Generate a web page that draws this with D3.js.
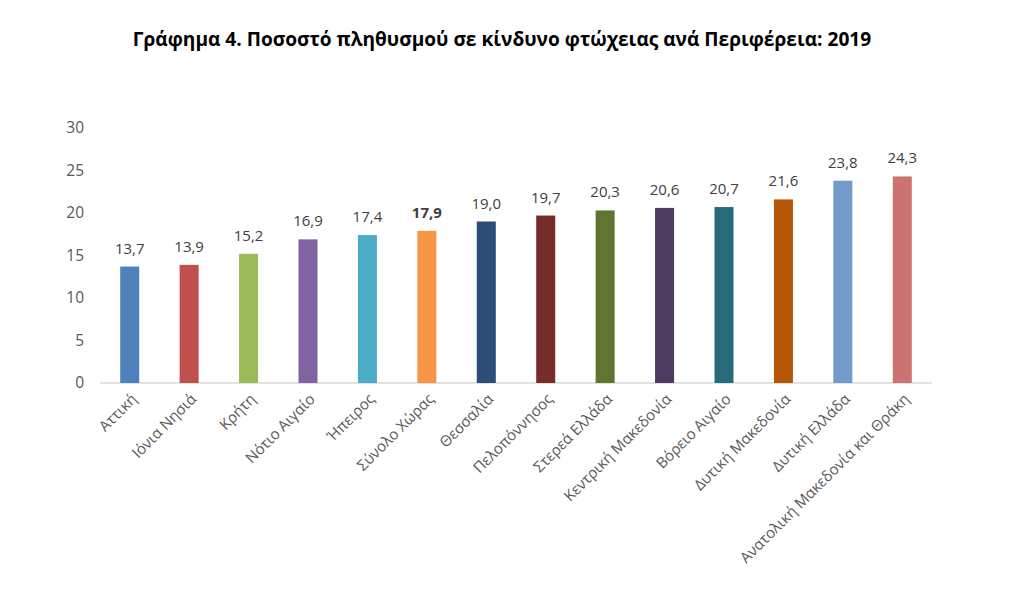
<!DOCTYPE html>
<html><head><meta charset="utf-8">
<script src="https://cdn.jsdelivr.net/npm/d3@7"></script>
<style>body{margin:0;background:#fff}svg{display:block}</style>
</head><body>
<svg id="c" width="1024" height="590"></svg>
<script>
const categories = ["Αττική","Ιόνια Νησιά","Κρήτη","Νότιο Αιγαίο","Ήπειρος","Σύνολο Χώρας","Θεσσαλία","Πελοπόννησος","Στερεά Ελλάδα","Κεντρική Μακεδονία","Βόρειο Αιγαίο","Δυτική Μακεδονία","Δυτική Ελλάδα","Ανατολική Μακεδονία και Θράκη"];
const values = [13.7,13.9,15.2,16.9,17.4,17.9,19.0,19.7,20.3,20.6,20.7,21.6,23.8,24.3];
const colors = ["#4F81BD","#C0504D","#9BBB59","#8064A2","#4BACC6","#F79646","#2C4D75","#772C2A","#5F7530","#4D3B62","#276A7C","#B65708","#729ACA","#CD7371"];
const yTicks = [0,5,10,15,20,25,30];
const title = "Γράφημα 4. Ποσοστό πληθυσμού σε κίνδυνο φτώχειας ανά Περιφέρεια: 2019";
const highlight = "Σύνολο Χώρας";

const svg = d3.select("#c");
const font = "'Open Sans', 'Noto Sans', sans-serif";
const x = d3.scaleBand().domain(categories).range([100,932]).paddingInner(0.68).paddingOuter(0.34);
const y = d3.scaleLinear().domain([0,30]).range([383,128]);

// title
const t = svg.append("text").attr("x",502).attr("y",46).attr("text-anchor","middle")
  .attr("font-family",font).attr("font-weight","bold").attr("font-size",17).attr("fill","#000").text(title);
const tw = t.node().getComputedTextLength();
t.attr("font-size", 17*739/tw);

// y axis
const ya = svg.append("g").attr("transform","translate(84,0)")
  .call(d3.axisLeft(y).tickValues(yTicks).tickSize(0).tickPadding(0));
ya.select(".domain").remove();
ya.selectAll("text").attr("font-family",font).attr("font-size",15.5).attr("fill","#595959");

// baseline
svg.append("line").attr("x1",100).attr("x2",932).attr("y1",y(0)).attr("y2",y(0))
  .attr("stroke","#D9D9D9").attr("stroke-width",1.3);

// bars
svg.selectAll("rect.bar").data(categories).join("rect").attr("class","bar")
  .attr("x",d=>x(d)).attr("width",x.bandwidth())
  .attr("y",(d,i)=>y(values[i])).attr("height",(d,i)=>y(0)-y(values[i]))
  .attr("fill",(d,i)=>colors[i]);

// value labels
svg.selectAll("text.val").data(categories).join("text").attr("class","val")
  .attr("x",d=>x(d)+x.bandwidth()/2).attr("y",(d,i)=>y(values[i])-13)
  .attr("text-anchor","middle").attr("font-family",font).attr("font-size",15)
  .attr("font-weight",d=>d===highlight?"bold":"normal")
  .attr("fill","#404040")
  .text((d,i)=>values[i].toFixed(1).replace(".",","));

// x labels
svg.selectAll("text.cat").data(categories).join("text").attr("class","cat")
  .attr("transform",d=>`translate(${x(d)+x.bandwidth()/2+8},${y(0)+17}) rotate(-45)`)
  .attr("text-anchor","end").attr("font-family",font).attr("font-size",15)
  .attr("fill","#595959").text(d=>d);
</script>
</body></html>
